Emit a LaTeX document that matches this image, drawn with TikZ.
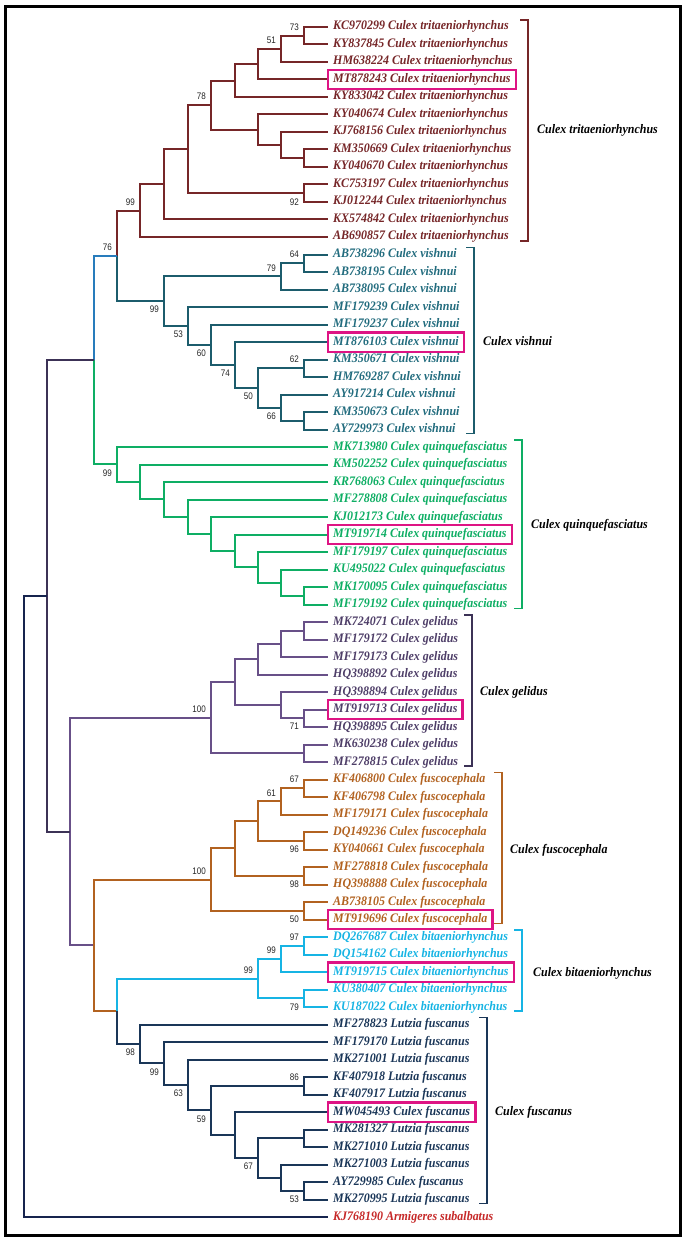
\documentclass[tikz,border=0pt]{standalone}
\usepackage{fontspec}
\setmainfont{Liberation Serif}
\newfontfamily\leaffont{Liberation Serif}[FakeStretch=0.92]
\newfontfamily\bsfont{Liberation Sans}[FakeStretch=0.85]
\usetikzlibrary{calc,positioning}

\definecolor{cTri}{RGB}{118,38,40}
\definecolor{cVis}{RGB}{28,92,108}
\definecolor{cVisT}{RGB}{34,108,126}
\definecolor{cQui}{RGB}{14,174,100}
\definecolor{cGel}{RGB}{104,80,136}
\definecolor{cGelT}{RGB}{78,62,104}
\definecolor{cFus}{RGB}{178,98,32}
\definecolor{cBit}{RGB}{22,180,228}
\definecolor{cLut}{RGB}{26,54,88}
\definecolor{cBlue}{RGB}{40,124,188}
\definecolor{cDeep}{RGB}{60,50,86}
\definecolor{cRoot}{RGB}{22,36,78}
\definecolor{cRed}{RGB}{198,40,40}
\definecolor{cMag}{RGB}{222,20,132}

% tree node: name, x, two children (y = midpoint)
\newcommand\tn[4]{\path ($(#3)!.5!(#4)$) coordinate (tmp);
  \coordinate (#1) at (#2,0 |- tmp);}

\begin{document}
\begin{tikzpicture}[x=1pt,y=-1pt,
    edge/.style={line width=2pt},
    brk/.style={line width=1.7pt},
    leaf/.style={anchor=west,inner xsep=5pt,inner ysep=3.5pt,text height=9pt,text depth=3pt,
      font=\leaffont\bfseries\itshape\fontsize{13}{15}\selectfont},
    clade/.style={anchor=west,inner sep=2pt,font=\leaffont\bfseries\itshape\fontsize{13}{15}\selectfont},
    hlbox/.style={draw=cMag,line width=2.4pt},
    bs/.style={inner sep=1pt,text=black!85,font=\bsfont\fontsize{9.5}{10}\selectfont}]
    \useasboundingbox[fill=white] (0,0) rectangle (685,1241);
    \draw[line width=3pt] (5,7) rectangle (680,1235);

    % leaves
    \foreach \a [count=\i from 1] in {KC970299,KY837845,HM638224,MT878243,KY833042,KY040674,
        KJ768156,KM350669,KY040670,KC753197,KJ012244,KX574842,AB690857}{
        \coordinate (t\i) at (328,{27+(\i-1)*17.5});
        \node[leaf,text=cTri] (l\i) at (t\i) {\a\ Culex tritaeniorhynchus};}
    \foreach \a [count=\i from 14] in {AB738296,AB738195,AB738095,MF179239,MF179237,MT876103,
        KM350671,HM769287,AY917214,KM350673,AY729973}{
        \coordinate (t\i) at (328,{27+(\i-1)*17.5});
        \node[leaf,text=cVisT] (l\i) at (t\i) {\a\ Culex vishnui};}
    \foreach \a [count=\i from 25] in {MK713980,KM502252,KR768063,MF278808,KJ012173,MT919714,
        MF179197,KU495022,MK170095,MF179192}{
        \coordinate (t\i) at (328,{27+(\i-1)*17.5});
        \node[leaf,text=cQui] (l\i) at (t\i) {\a\ Culex quinquefasciatus};}
    \foreach \a [count=\i from 35] in {MK724071,MF179172,MF179173,HQ398892,HQ398894,MT919713,
        HQ398895,MK630238,MF278815}{
        \coordinate (t\i) at (328,{27+(\i-1)*17.5});
        \node[leaf,text=cGelT] (l\i) at (t\i) {\a\ Culex gelidus};}
    \foreach \a [count=\i from 44] in {KF406800,KF406798,MF179171,DQ149236,KY040661,MF278818,
        HQ398888,AB738105,MT919696}{
        \coordinate (t\i) at (328,{27+(\i-1)*17.5});
        \node[leaf,text=cFus] (l\i) at (t\i) {\a\ Culex fuscocephala};}
    \foreach \a [count=\i from 53] in {DQ267687,DQ154162,MT919715,KU380407,KU187022}{
        \coordinate (t\i) at (328,{27+(\i-1)*17.5});
        \node[leaf,text=cBit] (l\i) at (t\i) {\a\ Culex bitaeniorhynchus};}
    \foreach \a/\g [count=\i from 58] in {MF278823/Lutzia,MF179170/Lutzia,MK271001/Lutzia,
        KF407918/Lutzia,KF407917/Lutzia,MW045493/Culex,MK281327/Lutzia,MK271010/Lutzia,
        MK271003/Lutzia,AY729985/Culex,MK270995/Lutzia}{
        \coordinate (t\i) at (328,{27+(\i-1)*17.5});
        \node[leaf,text=cLut] (l\i) at (t\i) {\a\ \g\ fuscanus};}
    \coordinate (t69) at (328,1217);
    \node[leaf,text=cRed] (l69) at (t69) {KJ768190 Armigeres subalbatus};

    % internal nodes
    \tn{a73}{304}{t1}{t2}  \tn{a51}{281}{a73}{t3}  \tn{a1}{258}{a51}{t4}
    \tn{a2}{235}{a1}{t5}   \tn{a4}{304}{t8}{t9}    \tn{a3}{281}{t7}{a4}
    \tn{a5}{258}{t6}{a3}   \tn{a78}{211}{a2}{a5}   \tn{a92}{304}{t10}{t11}
    \tn{a6}{188}{a78}{a92} \tn{a7}{164}{a6}{t12}   \tn{a99}{140}{a7}{t13}
    \tn{v64}{304}{t14}{t15} \tn{v79}{281}{v64}{t16} \tn{v1}{304}{t23}{t24}
    \tn{v66}{281}{t22}{v1}  \tn{v62}{304}{t20}{t21} \tn{v50}{258}{v62}{v66}
    \tn{v74}{235}{t19}{v50} \tn{v60}{211}{t18}{v74} \tn{v53}{188}{t17}{v60}
    \tn{v99}{164}{v79}{v53} \tn{r76}{117}{a99}{v99}
    \tn{q1}{304}{t33}{t34} \tn{q2}{281}{t32}{q1} \tn{q3}{258}{t31}{q2}
    \tn{q4}{235}{t30}{q3}  \tn{q5}{211}{t29}{q4} \tn{q6}{188}{t28}{q5}
    \tn{q7}{164}{t27}{q6}  \tn{q8}{140}{t26}{q7} \tn{q99}{117}{t25}{q8}
    \tn{r94}{94}{r76}{q99}
    \tn{g1}{304}{t35}{t36} \tn{g2}{281}{g1}{t37}   \tn{g3}{258}{g2}{t38}
    \tn{g71}{304}{t40}{t41} \tn{g4}{281}{t39}{g71} \tn{g5}{235}{g3}{g4}
    \tn{g6}{304}{t42}{t43} \tn{g100}{211}{g5}{g6}
    \tn{f67}{304}{t44}{t45} \tn{f61}{281}{f67}{t46} \tn{f96}{304}{t47}{t48}
    \tn{f1}{258}{f61}{f96}  \tn{f98}{304}{t49}{t50} \tn{f2}{235}{f1}{f98}
    \tn{f50}{304}{t51}{t52} \tn{f100}{211}{f2}{f50}
    \tn{b97}{304}{t53}{t54} \tn{b99}{281}{b97}{t55} \tn{b79}{304}{t56}{t57}
    \tn{b99x}{258}{b99}{b79}
    \tn{u53}{304}{t67}{t68} \tn{u1}{281}{t66}{u53} \tn{u2}{304}{t64}{t65}
    \tn{u67}{258}{u2}{u1}   \tn{u3}{235}{t63}{u67} \tn{u86}{304}{t61}{t62}
    \tn{u59}{211}{u86}{u3}  \tn{u63}{188}{t60}{u59} \tn{u99}{164}{t59}{u63}
    \tn{u98}{140}{t58}{u99}
    \tn{r117}{117}{b99x}{u98} \tn{r94b}{94}{f100}{r117} \tn{r70}{70}{g100}{r94b}
    \tn{r47}{47}{r94}{r70}    \tn{r24}{24}{r47}{t69}

    % branches
    \foreach \p/\c in {a73/t1,a73/t2,a51/a73,a51/t3,a1/a51,a1/t4,a2/a1,a2/t5,a4/t8,a4/t9,
        a3/t7,a3/a4,a5/t6,a5/a3,a78/a2,a78/a5,a92/t10,a92/t11,a6/a78,a6/a92,a7/a6,a7/t12,
        a99/a7,a99/t13,r76/a99}
        \draw[edge,cTri] (\p) |- (\c);
    \foreach \p/\c in {v64/t14,v64/t15,v79/v64,v79/t16,v1/t23,v1/t24,v66/t22,v66/v1,
        v62/t20,v62/t21,v50/v62,v50/v66,v74/t19,v74/v50,v60/t18,v60/v74,v53/t17,v53/v60,
        v99/v79,v99/v53,r76/v99}
        \draw[edge,cVis] (\p) |- (\c);
    \foreach \p/\c in {q1/t33,q1/t34,q2/t32,q2/q1,q3/t31,q3/q2,q4/t30,q4/q3,q5/t29,q5/q4,
        q6/t28,q6/q5,q7/t27,q7/q6,q8/t26,q8/q7,q99/t25,q99/q8,r94/q99}
        \draw[edge,cQui] (\p) |- (\c);
    \draw[edge,cBlue] (r94) |- (r76);
    \foreach \p/\c in {g1/t35,g1/t36,g2/g1,g2/t37,g3/g2,g3/t38,g71/t40,g71/t41,g4/t39,
        g4/g71,g5/g3,g5/g4,g6/t42,g6/t43,g100/g5,g100/g6,r70/g100,r70/r94b}
        \draw[edge,cGel] (\p) |- (\c);
    \foreach \p/\c in {f67/t44,f67/t45,f61/f67,f61/t46,f96/t47,f96/t48,f1/f61,f1/f96,
        f98/t49,f98/t50,f2/f1,f2/f98,f50/t51,f50/t52,f100/f2,f100/f50,r94b/f100,r94b/r117}
        \draw[edge,cFus] (\p) |- (\c);
    \foreach \p/\c in {b97/t53,b97/t54,b99/b97,b99/t55,b79/t56,b79/t57,b99x/b99,b99x/b79,
        r117/b99x}
        \draw[edge,cBit] (\p) |- (\c);
    \foreach \p/\c in {u53/t67,u53/t68,u1/t66,u1/u53,u2/t64,u2/t65,u67/u2,u67/u1,u3/t63,
        u3/u67,u86/t61,u86/t62,u59/u86,u59/u3,u63/t60,u63/u59,u99/t59,u99/u63,u98/t58,
        u98/u99,r117/u98}
        \draw[edge,cLut] (\p) |- (\c);
    \foreach \p/\c in {r47/r94,r47/r70}
        \draw[edge,cDeep] (\p) |- (\c);
    \foreach \p/\c in {r24/r47,r24/t69}
        \draw[edge,cRoot] (\p) |- (\c);

    % bootstrap values
    \foreach \n/\v in {a73/73,a51/51,a78/78,a99/99,r76/76,v64/64,v79/79,v62/62,g100/100,
        f67/67,f61/61,f100/100,b97/97,b99/99,b99x/99,u86/86}
        \node[bs,anchor=south east] (bs\n) at ([shift={(-4,-4)}]\n) {\v};
    \foreach \n/\v in {a92/92,v66/66,v50/50,v74/74,v60/60,v53/53,v99/99,q99/99,g71/71,
        f96/96,f98/98,f50/50,b79/79,u98/98,u99/99,u63/63,u59/59,u67/67,u53/53}
        \node[bs,anchor=north east] (bs\n) at ([shift={(-4,4)}]\n) {\v};

    % own sequences
    \foreach \i in {4,19,30,40,52,55,63}
        \draw[hlbox] (l\i.south west) rectangle (l\i.north east);

    % clade brackets
    \draw[brk,cTri] (520,20) -| (528,241) -- (520,241);
    \node[clade] (labTri) at (535,130) {Culex tritaeniorhynchus};
    \draw[brk,cVis] (466,247.5) -| (474,433.5) -- (466,433.5);
    \node[clade] (labVis) at (481,341) {Culex vishnui};
    \draw[brk,cQui] (514,440) -| (522,608.5) -- (514,608.5);
    \node[clade] (labQui) at (529,525) {Culex quinquefasciatus};
    \draw[brk,cDeep] (464,615) -| (472,766) -- (464,766);
    \node[clade] (labGel) at (478,692) {Culex gelidus};
    \draw[brk,cFus] (494,772.5) -| (502,923.5) -- (494,923.5);
    \node[clade] (labFus) at (508,850) {Culex fuscocephala};
    \draw[brk,cBit] (514,930) -| (522,1011) -- (514,1011);
    \node[clade] (labBit) at (531,973) {Culex bitaeniorhynchus};
    \draw[brk,cLut] (479,1017.5) -| (487,1203.5) -- (479,1203.5);
    \node[clade] (labLut) at (493,1112) {Culex fuscanus};
\end{tikzpicture}
\end{document}
